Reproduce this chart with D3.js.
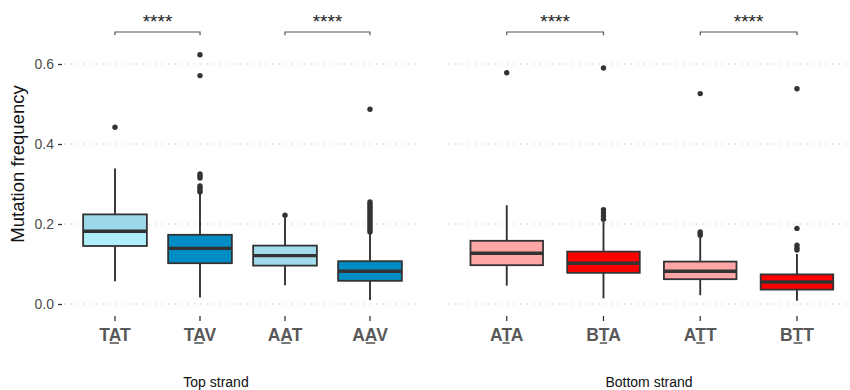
<!DOCTYPE html>
<html>
<head>
<meta charset="utf-8">
<script src="https://cdn.jsdelivr.net/npm/d3@7"></script>
<style>
  body { margin: 0; background: #fff; }
  svg { font-family: "Liberation Sans", Arial, sans-serif; }
</style>
</head>
<body>
<svg id="chart" width="850" height="390"></svg>
<script>
// ---------------- data ----------------
let topCats = ['TAT', 'TAV', 'AAT', 'AAV']
let bottomCats = ['ATA', 'BTA', 'ATT', 'BTT']

// [whiskerLow, q1, median, q3, whiskerHigh]
let topStats = [
  [0.057, 0.145, 0.182, 0.224, 0.339],
  [0.016, 0.102, 0.139, 0.173, 0.275],
  [0.047, 0.096, 0.121, 0.146, 0.215],
  [0.010, 0.058, 0.082, 0.107, 0.178]
]
let bottomStats = [
  [0.046, 0.097, 0.127, 0.158, 0.247],
  [0.014, 0.078, 0.102, 0.131, 0.205],
  [0.022, 0.062, 0.082, 0.106, 0.168],
  [0.008, 0.036, 0.055, 0.074, 0.125]
]
let topOutliers = [
  [0.442],
  [0.28, 0.285, 0.29, 0.295, 0.315, 0.32, 0.325, 0.571, 0.623],
  [0.222],
  [0.18, 0.185, 0.19, 0.195, 0.2, 0.205, 0.21, 0.215, 0.22, 0.225, 0.23, 0.235, 0.24, 0.245, 0.25, 0.255, 0.487]
]
let bottomOutliers = [
  [0.578],
  [0.212, 0.22, 0.228, 0.236, 0.59],
  [0.172, 0.176, 0.18, 0.526],
  [0.135, 0.14, 0.147, 0.189, 0.538]
]
let yTicks = [0.0, 0.2, 0.4, 0.6]
let sigLabel = '****'
let sigPairs = [[0, 1], [2, 3]]
let panelTitles = ['Top strand', 'Bottom strand']

// ---------------- styles ----------------
let topFill = ['#aeeefb', '#008cc4', '#a2dbeb', '#008cc4']
let topUpperFill = ['#9dd9ea', '#008cc4', '#a2dbeb', '#008cc4']
let bottomFill = ['#ffa6a6', '#ff0000', '#ffa6a6', '#ff0000']

let svg = d3.select('#chart')
let ink = '#333333'

let y = d3.scaleLinear().domain([-0.03, 0.7]).range([316, 24])

let panels = [
  {cats: topCats, stats: topStats, outs: topOutliers, fill: topFill, upper: topUpperFill,
   range: [64, 421], title: panelTitles[0], titleX: 216},
  {cats: bottomCats, stats: bottomStats, outs: bottomOutliers, fill: bottomFill, upper: bottomFill,
   range: [448.7, 855], title: panelTitles[1], titleX: 649}
]

//================ Y AXIS (left panel only) ================
let yAxis = svg.append('g').attr('transform', 'translate(62,0)')
  .call(d3.axisLeft(y).tickValues(yTicks).tickFormat(d3.format('.1f')).tickSize(4).tickPadding(4))
yAxis.select('.domain').remove()
yAxis.selectAll('line').attr('stroke', ink).attr('stroke-width', 1.3)
yAxis.selectAll('text').attr('fill', '#4d4d4d').style('font-size', '14px')

svg.append('text')
  .attr('transform', 'translate(24,164) rotate(-90)')
  .attr('text-anchor', 'middle')
  .style('font-size', '18.5px')
  .attr('fill', '#111')
  .text('Mutation frequency')

//================ PANELS ================
panels.forEach(function(p) {
  let x = d3.scalePoint().domain(p.cats).range(p.range).padding(0.6)
  let bw = x.step() * 0.75
  let g = svg.append('g')

  // dotted grid
  g.selectAll('.grid').data(yTicks).enter().append('line')
    .attr('x1', p.range[0]).attr('x2', p.range[1])
    .attr('y1', function(d) { return y(d) }).attr('y2', function(d) { return y(d) })
    .attr('stroke', '#bdbdbd').attr('stroke-width', 1.1)
    .attr('stroke-dasharray', '1.2,5.3')

  // x ticks
  g.selectAll('.xtick').data(p.cats).enter().append('line')
    .attr('x1', function(d) { return x(d) }).attr('x2', function(d) { return x(d) })
    .attr('y1', 316).attr('y2', 321)
    .attr('stroke', ink).attr('stroke-width', 1.3)

  // tick labels with underlined middle base
  p.cats.forEach(function(c) {
    let t = g.append('text')
      .attr('x', x(c)).attr('y', 341)
      .attr('text-anchor', 'middle')
      .attr('fill', '#595959')
      .style('font-size', '17.5px').style('font-weight', 'bold')
      .text(c)
    let node = t.node()
    let full = node.getComputedTextLength()
    let start = x(c) - full / 2 + node.getSubStringLength(0, 1)
    let w = node.getSubStringLength(1, 1)
    g.append('line')
      .attr('x1', start + 1).attr('x2', start + w - 1)
      .attr('y1', 343).attr('y2', 343)
      .attr('stroke', '#595959').attr('stroke-width', 1.6)
  })

  // boxes
  p.cats.forEach(function(c, i) {
    let s = p.stats[i], cx = x(c)
    g.append('line')
      .attr('x1', cx).attr('x2', cx).attr('y1', y(s[0])).attr('y2', y(s[1]))
      .attr('stroke', ink).attr('stroke-width', 1.9)
    g.append('line')
      .attr('x1', cx).attr('x2', cx).attr('y1', y(s[3])).attr('y2', y(s[4]))
      .attr('stroke', ink).attr('stroke-width', 1.9)
    g.append('rect')
      .attr('x', cx - bw / 2).attr('width', bw)
      .attr('y', y(s[3])).attr('height', y(s[1]) - y(s[3]))
      .attr('fill', p.fill[i])
    g.append('rect')
      .attr('x', cx - bw / 2).attr('width', bw)
      .attr('y', y(s[3])).attr('height', y(s[2]) - y(s[3]))
      .attr('fill', p.upper[i])
    g.append('rect')
      .attr('x', cx - bw / 2).attr('width', bw)
      .attr('y', y(s[3])).attr('height', y(s[1]) - y(s[3]))
      .attr('fill', 'none').attr('stroke', ink).attr('stroke-width', 1.8)
    g.append('line')
      .attr('x1', cx - bw / 2).attr('x2', cx + bw / 2)
      .attr('y1', y(s[2])).attr('y2', y(s[2]))
      .attr('stroke', ink).attr('stroke-width', 3.4)

    g.selectAll(null).data(p.outs[i]).enter().append('circle')
      .attr('cx', cx).attr('cy', function(d) { return y(d) })
      .attr('r', 2.7).attr('fill', ink)
  })

  // significance brackets
  sigPairs.forEach(function(pr) {
    let x1 = x(p.cats[pr[0]]), x2 = x(p.cats[pr[1]])
    g.append('path')
      .attr('d', 'M' + x1 + ',' + y(0.672) + 'V' + y(0.68) + 'H' + x2 + 'V' + y(0.672))
      .attr('fill', 'none').attr('stroke', '#555').attr('stroke-width', 1.2)
    g.append('text')
      .attr('x', (x1 + x2) / 2).attr('y', 28)
      .attr('text-anchor', 'middle')
      .style('font-size', '19px')
      .attr('fill', '#222')
      .text(sigLabel)
  })

  svg.append('text')
    .attr('x', p.titleX).attr('y', 387)
    .attr('text-anchor', 'middle')
    .style('font-size', '14px')
    .attr('fill', '#111')
    .text(p.title)
})
</script>
</body>
</html>
